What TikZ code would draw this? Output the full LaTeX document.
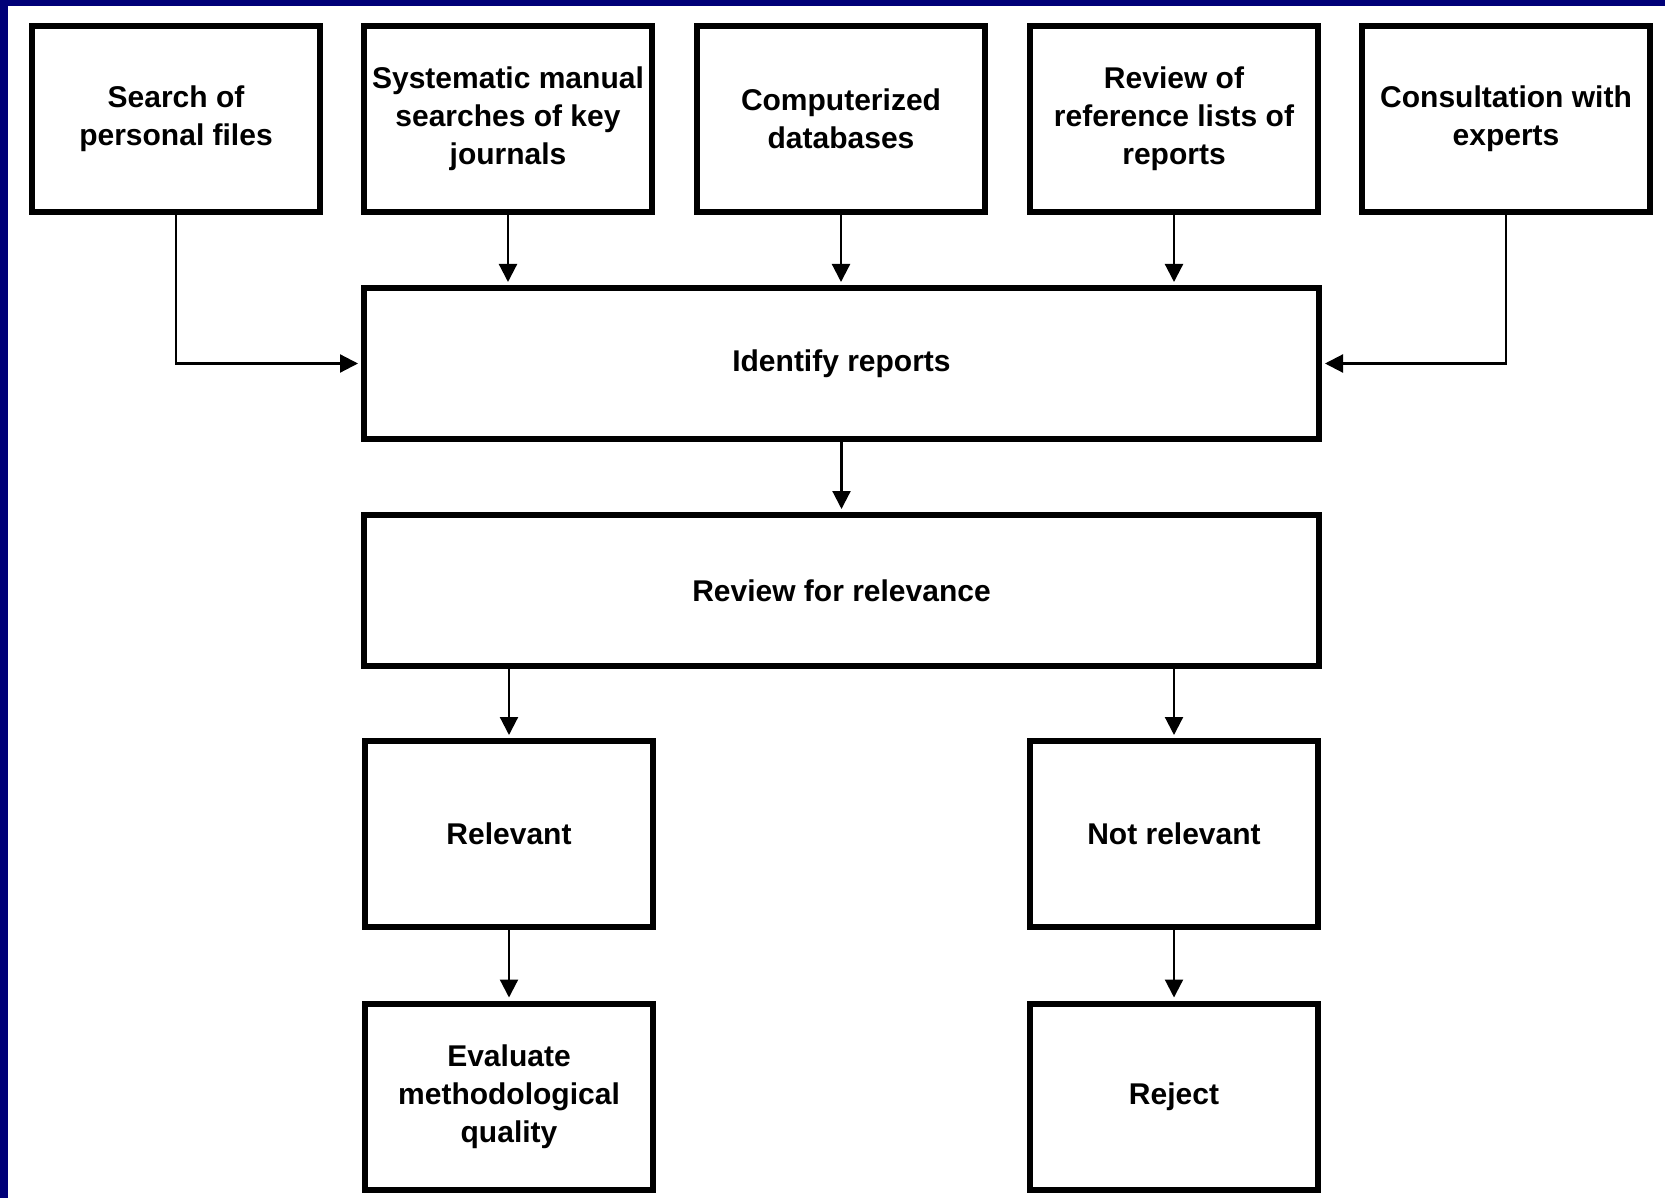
\documentclass[tikz,border=0pt]{standalone}
\usepackage{fontspec}
\setmainfont{Liberation Sans}
\usepackage{xcolor}
\usetikzlibrary{arrows.meta}
\definecolor{figN}{RGB}{0,0,120}
\tikzset{
  box/.style={draw, rectangle, line width=3pt, align=center, inner sep=0pt,
    font=\bfseries\fontsize{15}{19}\selectfont},
  smallbox/.style={box, minimum width=144pt, minimum height=93pt},
  widebox/.style={box, minimum width=477.5pt, minimum height=75.5pt},
  link/.style={-{Triangle[length=9pt, width=9pt]}, line width=1.1pt, shorten >=1.5pt}}

\begin{document}
\begin{tikzpicture}[x=0.5pt, y=-0.5pt]
% Frame
\fill[figN] (0,0) rectangle (1665,1198);
\fill[white] (8,6) rectangle (1665,1198);
% Sources
\node[smallbox] (files) at (176,119) {Search of\\personal files};
\node[smallbox] (manual) at (508,119) {Systematic manual\\searches of key\\journals};
\node[smallbox] (databases) at (841,119) {Computerized\\databases};
\node[smallbox] (reflists) at (1174,119) {Review of\\reference lists of\\reports};
\node[smallbox] (experts) at (1506,119) {Consultation with\\experts};
% Screening
\node[widebox] (identify) at (841.5,363.5) {Identify reports};
\node[widebox] (review) at (841.5,590.5) {Review for relevance};
% Outcomes
\node[smallbox] (relevant) at (509,834) {Relevant};
\node[smallbox] (notrelevant) at (1174,834) {Not relevant};
\node[smallbox] (evaluate) at (509,1096.5) {Evaluate\\methodological\\quality};
\node[smallbox] (reject) at (1174,1096.5) {Reject};
% Arrows
\draw[link] (files.south) |- (identify.west);
\draw[link] (experts.south) |- (identify.east);
\draw[link] (manual.south) -- (manual.south |- identify.north);
\draw[link] (databases.south) -- (databases.south |- identify.north);
\draw[link] (reflists.south) -- (reflists.south |- identify.north);
\draw[link] (identify.south) -- (review.north);
\draw[link] (relevant.north |- review.south) -- (relevant.north);
\draw[link] (notrelevant.north |- review.south) -- (notrelevant.north);
\draw[link] (relevant.south) -- (evaluate.north);
\draw[link] (notrelevant.south) -- (reject.north);
\end{tikzpicture}
\end{document}
